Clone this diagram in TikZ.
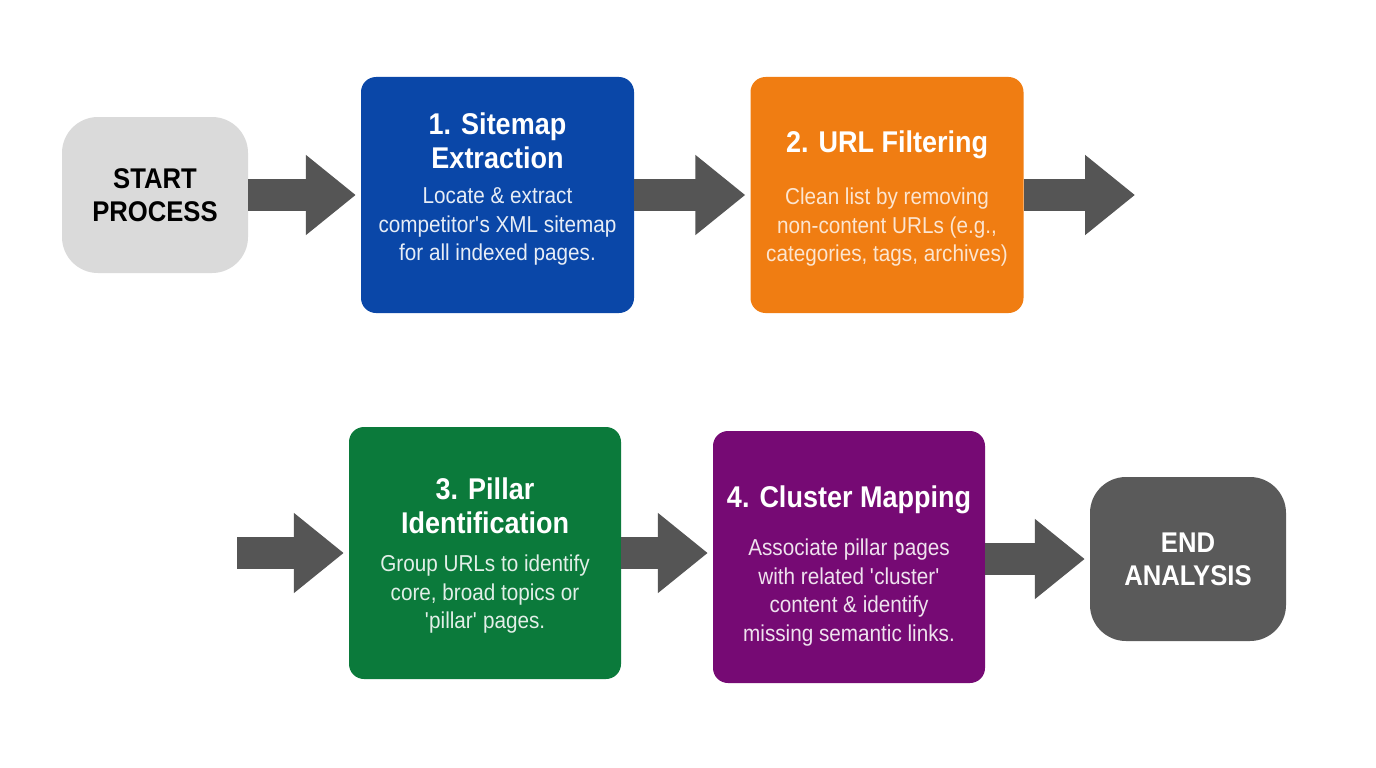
\documentclass[tikz,border=0pt]{standalone}
\usepackage{fontspec}
\setmainfont{Liberation Sans}[FakeStretch=0.9]
\usetikzlibrary{arrows.meta, positioning}

\definecolor{startgray}{HTML}{DADADA}
\definecolor{endgray}{HTML}{5A5A5A}
\definecolor{arrowgray}{HTML}{555555}
\definecolor{sitemapblue}{HTML}{0A47A8}
\definecolor{filterorange}{HTML}{F07D12}
\definecolor{pillargreen}{HTML}{0B7A3B}
\definecolor{clusterpurple}{HTML}{760A74}

\begin{document}
\begin{tikzpicture}[
        x=1pt, y=-1pt,
        stepbox/.style={rounded corners=15pt, minimum width=273pt,
                        minimum height=236pt, inner sep=0pt},
        endbox/.style={rounded corners=36pt, align=center,
                       font=\fontsize{28.5}{33}\selectfont\bfseries},
        headtext/.style={text=white, align=center, inner sep=0pt,
                         font=\fontsize{30}{34}\selectfont\bfseries},
        bodytext/.style={align=center, inner sep=0pt,
                         font=\fontsize{23}{28.5}\selectfont},
        arrow/.style={line width=32pt, draw=arrowgray, shorten >=5pt,
                      -{Triangle[length=50pt, width=77pt]}}
    ]
        \useasboundingbox[fill=white] (0,0) rectangle (1376,768);

        % top row
        \node[endbox, fill=startgray, text=black, minimum width=186pt,
              minimum height=156pt] (start) at (155,195) {START\\PROCESS};
        \node[stepbox, fill=sitemapblue] (s1) at (497.5,195) {};
        \node[headtext, below=36pt of s1.north] (t1) {1. Sitemap\\Extraction};
        \node[bodytext, text=white!90!sitemapblue, below=111pt of s1.north] (b1)
            {Locate \& extract\\competitor\textquotesingle s XML sitemap\\for all indexed pages.};
        \node[stepbox, fill=filterorange] (s2) at (887,195) {};
        \node[headtext, below=54pt of s2.north] (t2) {2. URL Filtering};
        \node[bodytext, text=white!80!filterorange, below=111pt of s2.north] (b2)
            {Clean list by removing\\non-content URLs (e.g.,\\categories, tags, archives)};
        \coordinate (out1) at (1135,195);

        % bottom row
        \coordinate (in2) at (237,553);
        \node[stepbox, fill=pillargreen, minimum width=272pt,
              minimum height=252pt] (s3) at (485,553) {};
        \node[headtext, below=51pt of s3.north] (t3) {3. Pillar\\Identification};
        \node[bodytext, text=white!88!pillargreen, below=128pt of s3.north] (b3)
            {Group URLs to identify\\core, broad topics or\\\textquotesingle pillar\textquotesingle{} pages.};
        \node[stepbox, fill=clusterpurple, minimum width=272pt,
              minimum height=252pt] (s4) at (849,557) {};
        \node[headtext, below=55pt of s4.north] (t4) {4. Cluster Mapping};
        \node[bodytext, text=white!88!clusterpurple, below=108pt of s4.north] (b4)
            {Associate pillar pages\\with related \textquotesingle cluster\textquotesingle\\content \& identify\\missing semantic links.};
        \node[endbox, fill=endgray, text=white, minimum width=196pt,
              minimum height=164pt] (end) at (1188,559) {END\\ANALYSIS};

        \draw[arrow] (start) -- (s1);
        \draw[arrow] (s1) -- (s2);
        \draw[arrow, shorten >=0pt] (s2) -- (out1);
        \draw[arrow] (in2) -- (s3);
        \draw[arrow] (s3.east) -- (s3.east -| s4.west);
        \draw[arrow] (s4.east |- end.west) -- (end.west);
    \end{tikzpicture}
\end{document}
